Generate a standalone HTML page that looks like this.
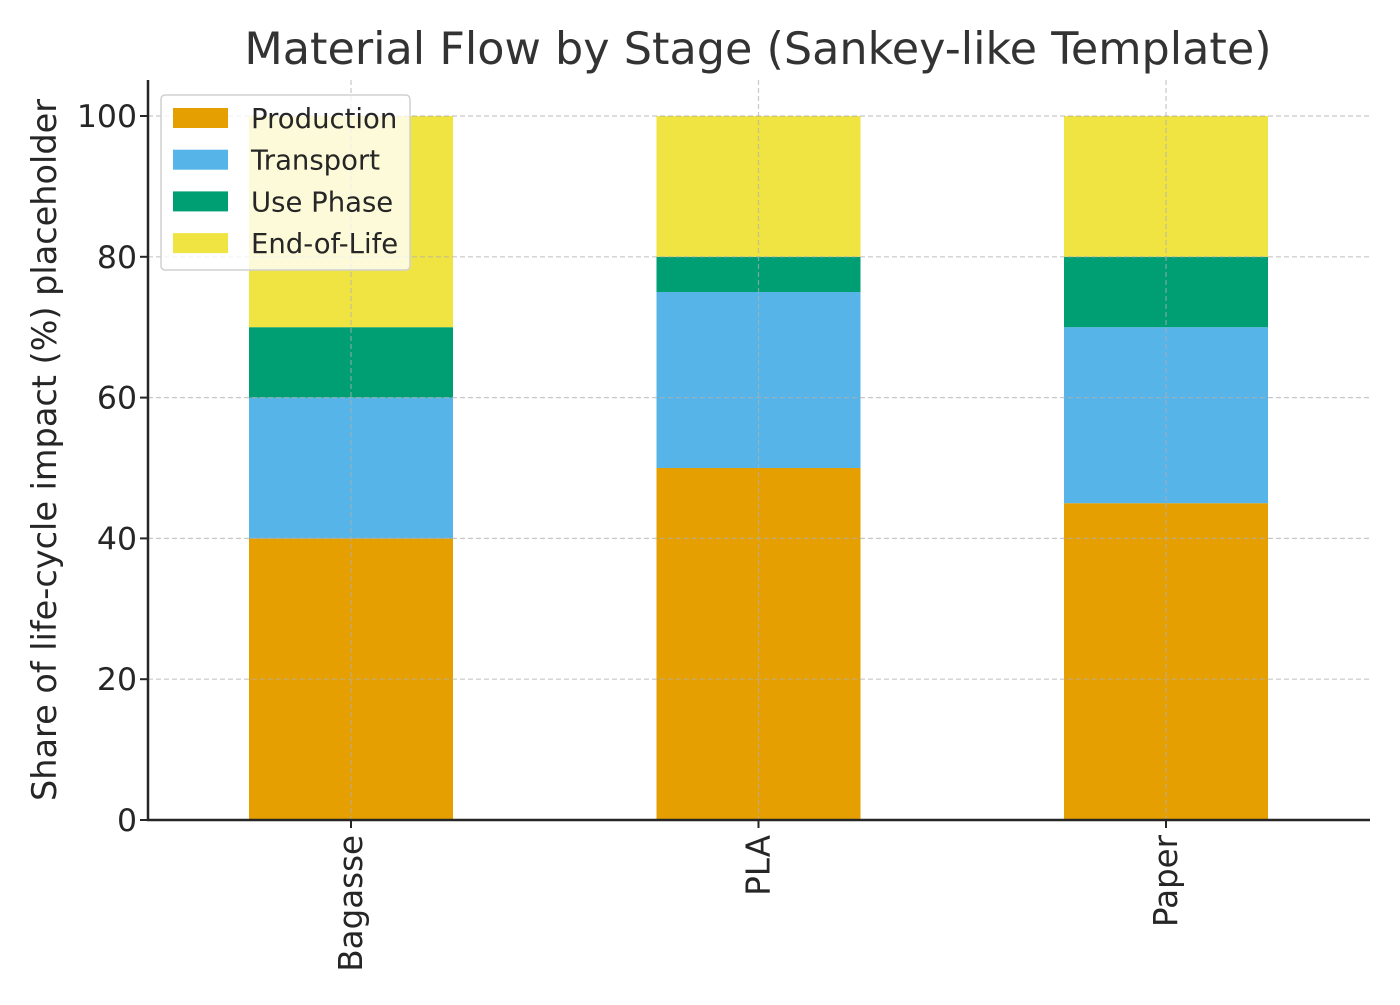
<!DOCTYPE html>
<html><head><meta charset="utf-8"><style>
html,body{margin:0;padding:0;background:#fff;}
svg text{font-family:"DejaVu Sans","Liberation Sans",sans-serif;fill:#262626;}
</style></head><body>
<svg id="chart" width="1400" height="1000" viewBox="0 0 1400 1000" xmlns="http://www.w3.org/2000/svg">
<rect width="1400" height="1000" fill="#fff"/>
<text x="758" y="64" font-size="44.5" text-anchor="middle" style="fill:#333">Material Flow by Stage (Sankey-like Template)</text>
<text transform="translate(56,450) rotate(-90)" font-size="33.5" text-anchor="middle">Share of life-cycle impact (%) placeholder</text>
<g id="bars"></g>
<g id="grid"></g>
<g id="axes"></g>
<g id="legend"></g>
</svg>
<script>
const categories = ["Bagasse", "PLA", "Paper"];
const seriesNames = ["Production", "Transport", "Use Phase", "End-of-Life"];
const production = [40, 50, 45];
const transport = [20, 25, 25];
const usePhase = [10, 5, 10];
const endOfLife = [30, 20, 20];
const yTicks = [0, 20, 40, 60, 80, 100];
const colors = ["#E69F00", "#56B4E9", "#009E73", "#F0E442"];
const series = [production, transport, usePhase, endOfLife];

const NS = "http://www.w3.org/2000/svg";
const L = 148, R = 1370, T = 80, B = 820;
const y = v => B - v * 7.04;
const x = i => 351 + i * 407.5;
const bw = 204;
function mk(tag, attrs, parent){ const e = document.createElementNS(NS, tag); for (const k in attrs) e.setAttribute(k, attrs[k]); parent.appendChild(e); return e; }

const bars = document.getElementById('bars');
categories.forEach((c, i) => {
  let base = 0;
  series.forEach((s, j) => {
    const r = mk('rect', {x: x(i) - bw/2, y: y(base + s[i]), width: bw, height: y(base) - y(base + s[i]), fill: colors[j]}, bars);
    
    
    base += s[i];
  });
});

const grid = document.getElementById('grid');
yTicks.forEach(t => {
  const g = mk('line', {x1: L, x2: R, y1: y(t), y2: y(t), stroke: '#b0b0b0', 'stroke-width': 1.2, 'stroke-dasharray': '5,3', opacity: 0.7}, grid);
  
  
});
categories.forEach((c, i) => {
  const g = mk('line', {x1: x(i), x2: x(i), y1: T, y2: B, stroke: '#b0b0b0', 'stroke-width': 1.2, 'stroke-dasharray': '5,3', opacity: 0.7}, grid);
  
  
});

const axes = document.getElementById('axes');
const la = mk('line', {x1: L, x2: L, y1: T, y2: B + 1, stroke: '#262626', 'stroke-width': 2.5}, axes);


const ba = mk('line', {x1: L - 1, x2: R, y1: B, y2: B, stroke: '#262626', 'stroke-width': 2.5}, axes);


yTicks.forEach(t => {
  const tk = mk('line', {x1: L - 8, x2: L, y1: y(t), y2: y(t), stroke: '#262626', 'stroke-width': 2}, axes);
  
  
  const tx = mk('text', {x: L - 11, y: y(t) + 11, 'font-size': 31.5, 'text-anchor': 'end'}, axes);
  tx.textContent = t;
  
  
});
categories.forEach((c, i) => {
  const tk = mk('line', {x1: x(i), x2: x(i), y1: B, y2: B + 8, stroke: '#262626', 'stroke-width': 2}, axes);
  
  
  const tx = mk('text', {transform: `translate(${x(i) + 11},${B + 15}) rotate(-90)`, 'font-size': 32.5, 'text-anchor': 'end'}, axes);
  tx.textContent = c;
  
  
});

const leg = document.getElementById('legend');
const box = mk('rect', {x: 161, y: 95, width: 249, height: 175, rx: 4, fill: '#fff', 'fill-opacity': 0.8, stroke: '#d0d0d0', 'stroke-width': 1.5}, leg);


seriesNames.forEach((n, j) => {
  const cy = 118 + j * 41.7;
  const p = mk('rect', {x: 173, y: cy - 10, width: 55, height: 20, fill: colors[j]}, leg);
  
  
  const t = mk('text', {x: 251, y: cy + 10, 'font-size': 27.5}, leg);
  t.textContent = n;
  
  
});
</script>
</body></html>
